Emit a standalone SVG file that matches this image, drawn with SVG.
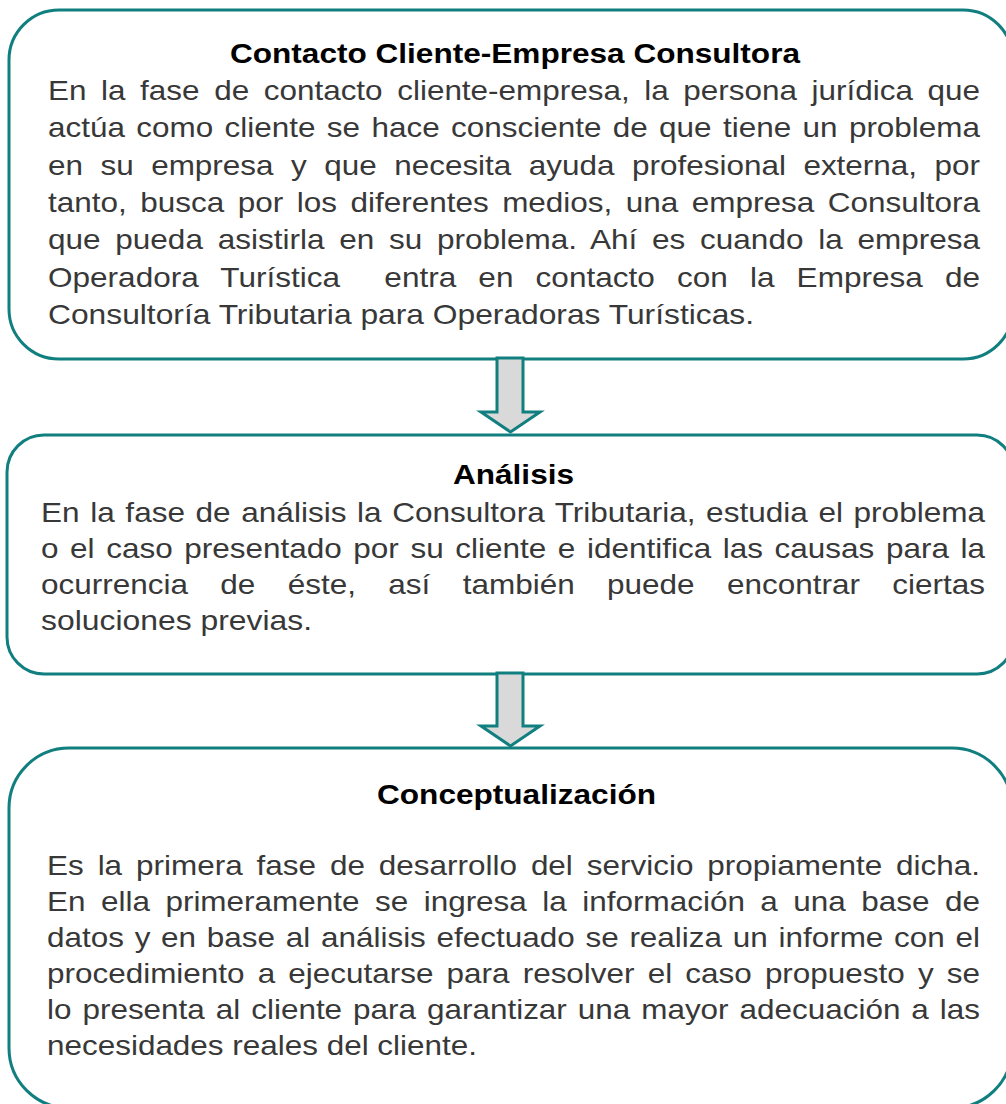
<svg xmlns="http://www.w3.org/2000/svg" width="1006" height="1104" viewBox="0 0 1006 1104">
<style>
.box{fill:#ffffff;stroke:#117f7f;stroke-width:3}
.arrow{fill:#d9d9d9;stroke:#117f7f;stroke-width:3;stroke-linejoin:miter}
.t{font-family:"Liberation Sans",Arial,sans-serif;font-size:27.5px;font-weight:bold;fill:#000000}
.b{font-family:"Liberation Sans",Arial,sans-serif;font-size:28.5px;fill:#383838}
</style>
<rect width="1006" height="1104" fill="#ffffff"/>
<g id="node-contacto">
<rect class="box" x="9" y="10" width="1004" height="349" rx="50" ry="50"/>
<text class="t" x="230" y="63" textLength="570" lengthAdjust="spacingAndGlyphs">Contacto Cliente-Empresa Consultora</text>
<text class="b" x="48" y="100" textLength="932" lengthAdjust="spacingAndGlyphs" style="word-spacing:5.3px">En la fase de contacto cliente-empresa, la persona jurídica que</text>
<text class="b" x="48" y="137.3" textLength="932" lengthAdjust="spacingAndGlyphs" style="word-spacing:2.4px">actúa como cliente se hace consciente de que tiene un problema</text>
<text class="b" x="48" y="174.7" textLength="932" lengthAdjust="spacingAndGlyphs" style="word-spacing:7.9px">en su empresa y que necesita ayuda profesional externa, por</text>
<text class="b" x="48" y="212" textLength="932" lengthAdjust="spacingAndGlyphs" style="word-spacing:4.3px">tanto, busca por los diferentes medios, una empresa Consultora</text>
<text class="b" x="48" y="249.3" textLength="932" lengthAdjust="spacingAndGlyphs" style="word-spacing:5.4px">que pueda asistirla en su problema. Ahí es cuando la empresa</text>
<text class="b" x="48" y="286.7" textLength="932" lengthAdjust="spacingAndGlyphs" style="word-spacing:12.1px">Operadora Turística&#160; entra en contacto con la Empresa de</text>
<text class="b" x="48" y="324" textLength="706" lengthAdjust="spacingAndGlyphs">Consultoría Tributaria para Operadoras Turísticas.</text>
</g>
<g id="node-analisis">
<rect class="box" x="7" y="435" width="1007" height="239" rx="37" ry="37"/>
<text class="t" x="453" y="484" textLength="121" lengthAdjust="spacingAndGlyphs">Análisis</text>
<text class="b" x="41" y="522" textLength="944" lengthAdjust="spacingAndGlyphs" style="word-spacing:1.7px">En la fase de análisis la Consultora Tributaria, estudia el problema</text>
<text class="b" x="41" y="558" textLength="944" lengthAdjust="spacingAndGlyphs" style="word-spacing:2.6px">o el caso presentado por su cliente e identifica las causas para la</text>
<text class="b" x="41" y="594" textLength="944" lengthAdjust="spacingAndGlyphs" style="word-spacing:21.4px">ocurrencia de éste, así también puede encontrar ciertas</text>
<text class="b" x="41" y="630" textLength="271" lengthAdjust="spacingAndGlyphs">soluciones previas.</text>
</g>
<g id="node-conceptualizacion">
<rect class="box" x="9" y="748" width="1003" height="360" rx="60" ry="60"/>
<text class="t" x="377" y="804" textLength="279" lengthAdjust="spacingAndGlyphs">Conceptualización</text>
<text class="b" x="47" y="875" textLength="933" lengthAdjust="spacingAndGlyphs" style="word-spacing:4.7px">Es la primera fase de desarrollo del servicio propiamente dicha.</text>
<text class="b" x="47" y="911" textLength="933" lengthAdjust="spacingAndGlyphs" style="word-spacing:6.1px">En ella primeramente se ingresa la información a una base de</text>
<text class="b" x="47" y="947" textLength="933" lengthAdjust="spacingAndGlyphs" style="word-spacing:1.8px">datos y en base al análisis efectuado se realiza un informe con el</text>
<text class="b" x="47" y="983" textLength="933" lengthAdjust="spacingAndGlyphs" style="word-spacing:4px">procedimiento a ejecutarse para resolver el caso propuesto y se</text>
<text class="b" x="47" y="1019" textLength="933" lengthAdjust="spacingAndGlyphs" style="word-spacing:2px">lo presenta al cliente para garantizar una mayor adecuación a las</text>
<text class="b" x="47" y="1055" textLength="430" lengthAdjust="spacingAndGlyphs">necesidades reales del cliente.</text>
</g>
<g id="connectors">
<polygon class="arrow" points="497,358 523,358 523,412 540,412 510.5,432 481,412 497,412"/>
<polygon class="arrow" points="497,673 523,673 523,726 540,726 510.5,746 481,726 497,726"/>
</g>
</svg>
